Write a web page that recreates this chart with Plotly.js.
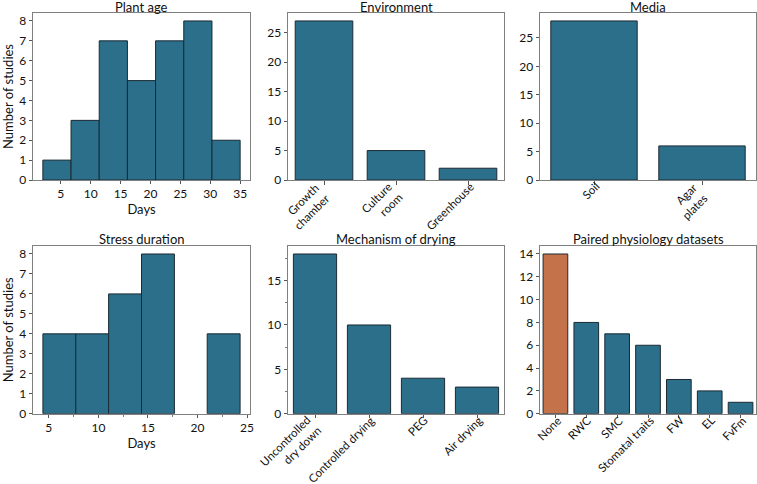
<!DOCTYPE html>
<html>
<head>
<meta charset="utf-8">
<script src="https://cdn.plot.ly/plotly-3.0.1.min.js"></script>
<style>html,body{margin:0;padding:0;background:#fff;}#chart{width:757px;height:484px;}</style>
</head>
<body>
<div id="chart"></div>
<script>
// ---- Data ----
const plantAgeEdges = [2, 6.714, 11.429, 16.143, 20.857, 25.571, 30.286, 35];
const plantAgeCounts = [1, 3, 7, 5, 7, 8, 2];

const envCategories = ["Growth<br>chamber", "Culture<br>room", "Greenhouse"];
const envCounts = [27, 5, 2];

const mediaCategories = ["Soil", "Agar<br>plates"];
const mediaCounts = [28, 6];

const stressEdges = [4.4, 7.72, 11.03, 14.35, 17.67, 20.98, 24.3];
const stressCounts = [4, 4, 6, 8, 0, 4];

const dryingCategories = ["Uncontrolled<br>dry down", "Controlled drying", "PEG", "Air drying"];
const dryingCounts = [18, 10, 4, 3];

const physioCategories = ["None", "RWC", "SMC", "Stomatal traits", "FW", "EL", "FvFm"];
const physioCounts = [14, 8, 7, 6, 3, 2, 1];

const panelTitles = ["Plant age", "Environment", "Media", "Stress duration", "Mechanism of drying", "Paired physiology datasets"];

// ---- Styles ----
const BLUE = "#2b6f8b";
const ORANGE = "#c4724a";
const EDGE = "#1b2a33";
const FONT = "Lato, 'Open Sans', sans-serif";

function centers(edges){ const c=[]; for(let i=0;i<edges.length-1;i++) c.push((edges[i]+edges[i+1])/2); return c; }
function widths(edges){ const w=[]; for(let i=0;i<edges.length-1;i++) w.push(edges[i+1]-edges[i]); return w; }
function edgeW(counts){ return counts.map(v => v > 0 ? 1 : 0); }

const W = 757, H = 484;
const colsPx = [[33, 250], [288, 504], [540, 756]];
const rowsPx = [[13, 180], [246, 413.7]];
const titleCenterPx = [7, 239];
const xd = colsPx.map(c => [c[0]/W, c[1]/W]);
const yd = rowsPx.map(r => [1 - r[1]/H, 1 - r[0]/H]);

const traces = [
  {type:"bar", x:centers(plantAgeEdges), y:plantAgeCounts, width:widths(plantAgeEdges), xaxis:"x", yaxis:"y",
   marker:{color:BLUE, line:{color:EDGE, width:edgeW(plantAgeCounts)}}},
  {type:"bar", x:envCategories, y:envCounts, width:0.8, xaxis:"x2", yaxis:"y2",
   marker:{color:BLUE, line:{color:EDGE, width:1}}},
  {type:"bar", x:mediaCategories, y:mediaCounts, width:0.8, xaxis:"x3", yaxis:"y3",
   marker:{color:BLUE, line:{color:EDGE, width:1}}},
  {type:"bar", x:centers(stressEdges), y:stressCounts, width:widths(stressEdges), xaxis:"x4", yaxis:"y4",
   marker:{color:BLUE, line:{color:EDGE, width:edgeW(stressCounts)}}},
  {type:"bar", x:dryingCategories, y:dryingCounts, width:0.8, xaxis:"x5", yaxis:"y5",
   marker:{color:BLUE, line:{color:EDGE, width:1}}},
  {type:"bar", x:physioCategories, y:physioCounts, width:0.8, xaxis:"x6", yaxis:"y6",
   marker:{color:physioCategories.map((c,i)=> i===0 ? ORANGE : BLUE), line:{color:EDGE, width:1}}}
];
traces.forEach(t => { t.hoverinfo = "skip"; t.showlegend = false; });

function axBase(extra){
  return Object.assign({
    showline:true, mirror:true, linecolor:"#808080", linewidth:1,
    ticks:"outside", ticklen:3.5, tickwidth:1, tickcolor:"#555",
    showgrid:false, zeroline:false, automargin:false, fixedrange:true,
    tickfont:{family:FONT, size:12, color:"#111"}
  }, extra);
}
const titleFont = {family:FONT, size:13, color:"#111"};
const catAx = extra => axBase(Object.assign({showticklabels:false}, extra));

const layout = {
  width:W, height:H, margin:{l:0, r:0, t:0, b:0},
  paper_bgcolor:"#fff", plot_bgcolor:"#fff",
  font:{family:FONT, size:12, color:"#111"},
  showlegend:false, bargap:0,
  xaxis: axBase({domain:xd[0], anchor:"y", range:[0.35, 36.65], tickvals:[5,10,15,20,25,30,35],
    ticklen:3, title:{text:"Days", font:titleFont, standoff:1}}),
  yaxis: axBase({domain:yd[0], anchor:"x", range:[0, 8.4], dtick:1,
    title:{text:"Number of studies", font:titleFont, standoff:6}}),
  xaxis2: catAx({domain:xd[1], anchor:"y2", range:[-0.5, 2.5]}),
  yaxis2: axBase({domain:yd[0], anchor:"x2", range:[0, 28.35], dtick:5}),
  xaxis3: catAx({domain:xd[2], anchor:"y3", range:[-0.5, 1.5]}),
  yaxis3: axBase({domain:yd[0], anchor:"x3", range:[0, 29.4], dtick:5}),
  xaxis4: axBase({domain:xd[0], anchor:"y4", range:[3.4, 25.3], tickvals:[5,10,15,20,25],
    minor:{tickvals:[7.5,12.5,17.5,22.5], ticks:"outside", ticklen:2, tickcolor:"#777"},
    ticklen:3, title:{text:"Days", font:titleFont, standoff:1}}),
  yaxis4: axBase({domain:yd[1], anchor:"x4", range:[0, 8.4], dtick:1,
    title:{text:"Number of studies", font:titleFont, standoff:6}}),
  xaxis5: catAx({domain:xd[1], anchor:"y5", range:[-0.5, 3.5]}),
  yaxis5: axBase({domain:yd[1], anchor:"x5", range:[0, 18.9], tickvals:[0,5,10,15],
    minor:{tickvals:[2.5,7.5,12.5,17.5], ticks:"outside", ticklen:2, tickcolor:"#777"}}),
  xaxis6: catAx({domain:xd[2], anchor:"y6", range:[-0.5, 6.5]}),
  yaxis6: axBase({domain:yd[1], anchor:"x6", range:[0, 14.7], dtick:2}),
  annotations: []
};

panelTitles.forEach((t, i) => {
  const col = i % 3, row = Math.floor(i / 3);
  layout.annotations.push({text:t, xref:"paper", yref:"paper", x:(xd[col][0]+xd[col][1])/2, y:1 - titleCenterPx[row]/H,
    xanchor:"center", yanchor:"middle", showarrow:false, borderpad:0, font:titleFont});
});

// rotated category tick labels (right end at the tick)
[["x2", envCategories, 0], ["x3", mediaCategories, 0], ["x5", dryingCategories, 1], ["x6", physioCategories, 1]]
  .forEach(([ax, cats, row]) => {
    cats.forEach(c => {
      const multi = c.indexOf("<br>") >= 0;
      layout.annotations.push({text:c, xref:ax, yref:"paper", x:c, y:yd[row][0],
        xshift: multi ? 10 : 9, yshift: 1.5,
        xanchor:"right", yanchor:"top", textangle:-45, align:"right", showarrow:false, borderpad:0,
        font:{family:FONT, size:11.5, color:"#111"}});
    });
  });

Plotly.newPlot("chart", traces, layout, {staticPlot:true, displayModeBar:false});
</script>
</body>
</html>
